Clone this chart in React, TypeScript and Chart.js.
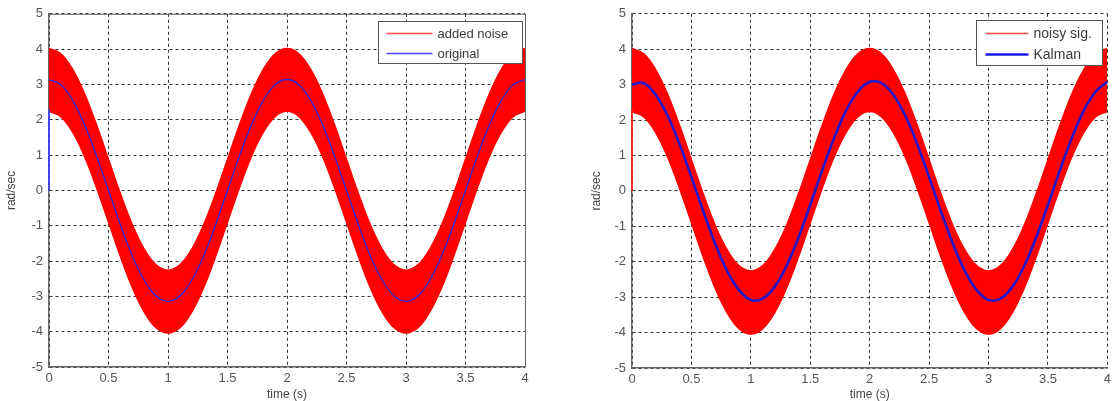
import React, { useEffect, useRef } from "react";
import { Chart, registerables } from "chart.js";

Chart.register(...registerables);

// ---------- data ----------
const TIME = [
  0, 0.1, 0.2, 0.3, 0.4, 0.5, 0.6, 0.7, 0.8, 0.9, 1.0,
  1.1, 1.2, 1.3, 1.4, 1.5, 1.6, 1.7, 1.8, 1.9, 2.0,
  2.1, 2.2, 2.3, 2.4, 2.5, 2.6, 2.7, 2.8, 2.9, 3.0,
  3.1, 3.2, 3.3, 3.4, 3.5, 3.6, 3.7, 3.8, 3.9, 4.0,
];

const ORIGINAL = [
  3.14, 2.99, 2.54, 1.85, 0.97, 0, -0.97, -1.85, -2.54, -2.99, -3.14,
  -2.99, -2.54, -1.85, -0.97, 0, 0.97, 1.85, 2.54, 2.99, 3.14,
  2.99, 2.54, 1.85, 0.97, 0, -0.97, -1.85, -2.54, -2.99, -3.14,
  -2.99, -2.54, -1.85, -0.97, 0, 0.97, 1.85, 2.54, 2.99, 3.14,
];

// upper / lower edge of the dense red noise band
const NOISE_UPPER = [
  4.02, 3.87, 3.42, 2.73, 1.85, 0.88, -0.09, -0.97, -1.66, -2.11, -2.26,
  -2.11, -1.66, -0.97, -0.09, 0.88, 1.85, 2.73, 3.42, 3.87, 4.02,
  3.87, 3.42, 2.73, 1.85, 0.88, -0.09, -0.97, -1.66, -2.11, -2.26,
  -2.11, -1.66, -0.97, -0.09, 0.88, 1.85, 2.73, 3.42, 3.87, 4.02,
];

const NOISE_LOWER = [
  2.24, 2.09, 1.64, 0.95, 0.07, -0.9, -1.87, -2.75, -3.44, -3.89, -4.04,
  -3.89, -3.44, -2.75, -1.87, -0.9, 0.07, 0.95, 1.64, 2.09, 2.24,
  2.09, 1.64, 0.95, 0.07, -0.9, -1.87, -2.75, -3.44, -3.89, -4.04,
  -3.89, -3.44, -2.75, -1.87, -0.9, 0.07, 0.95, 1.64, 2.09, 2.24,
];

const KALMAN = [
  3.0, 3.04, 2.71, 2.12, 1.32, 0.39, -0.58, -1.49, -2.26, -2.8, -3.08,
  -3.04, -2.71, -2.12, -1.32, -0.39, 0.58, 1.49, 2.26, 2.8, 3.08,
  3.04, 2.71, 2.12, 1.32, 0.39, -0.58, -1.49, -2.26, -2.8, -3.08,
  -3.04, -2.71, -2.12, -1.32, -0.39, 0.58, 1.49, 2.26, 2.8, 3.08,
];

// first samples start from zero (vertical segment at t = 0)
const START_TIME = [0, 0];
const START_VALUE = [0, 2.3];

const X_MIN = 0;
const X_MAX = 4;
const X_STEP = 0.5;
const Y_MIN = -5;
const Y_MAX = 5;
const Y_STEP = 1;

const X_TITLE = "time (s)";
const Y_TITLE = "rad/sec";

const LEFT_LEGEND = ["added noise", "original"];
const RIGHT_LEGEND = ["noisy sig.", "Kalman"];

// ---------- helpers ----------
const pts = (xs: number[], ys: number[]) => xs.map((x, i) => ({ x, y: ys[i] }));

const FONT = "'Liberation Sans', Arial, sans-serif";

type LegendItem = { label: string; stroke: string; lw: number; dy: number };
type Decor = {
  fullBox: boolean;
  xTitleY: number;
  yTitleX: number;
  width: number;
  height: number;
  offsetRight: number;
  offsetTop: number;
  lineStart: number;
  lineLen: number;
  textX: number;
  fontSize: number;
  items: LegendItem[];
};

function makeDecorPlugin(o: Decor) {
  return {
    id: "decor",
    afterDatasetsDraw(chart: any) {
      const { ctx, chartArea } = chart;
      const { left, right, top, bottom } = chartArea;
      ctx.save();
      if (o.fullBox) {
        ctx.strokeStyle = "#666";
        ctx.lineWidth = 1;
        ctx.setLineDash([]);
        ctx.beginPath();
        ctx.moveTo(left, top + 0.5);
        ctx.lineTo(right + 0.5, top + 0.5);
        ctx.lineTo(right + 0.5, bottom);
        ctx.stroke();
      }
      const bx = Math.round(right - o.offsetRight - o.width) + 0.5;
      const by = Math.round(top + o.offsetTop) + 0.5;
      ctx.setLineDash([]);
      ctx.fillStyle = "#ffffff";
      ctx.fillRect(bx, by, o.width, o.height);
      ctx.strokeStyle = "#555555";
      ctx.lineWidth = 1;
      ctx.strokeRect(bx, by, o.width, o.height);
      ctx.font = `${o.fontSize}px ${FONT}`;
      ctx.textBaseline = "middle";
      ctx.textAlign = "left";
      o.items.forEach((it) => {
        const y = by + it.dy;
        // legend sample line as a thin filled strip
        ctx.fillStyle = it.stroke;
        ctx.fillRect(bx + o.lineStart, y - it.lw / 2, o.lineLen, it.lw);
        ctx.fillStyle = "#3a3a3a";
        ctx.fillText(it.label, bx + o.textX, Math.round(y));
      });
      ctx.restore();
    },
    afterDraw(chart: any) {
      const { ctx, chartArea } = chart;
      ctx.save();
      ctx.fillStyle = "#444";
      ctx.font = `12px ${FONT}`;
      ctx.textAlign = "center";
      ctx.textBaseline = "middle";
      ctx.fillText(X_TITLE, (chartArea.left + chartArea.right) / 2, o.xTitleY);
      ctx.translate(o.yTitleX, (chartArea.top + chartArea.bottom) / 2);
      ctx.rotate(-Math.PI / 2);
      ctx.fillText(Y_TITLE, 0, 0);
      ctx.restore();
    },
  };
}

function makeConfig(kind: "left" | "right"): any {
  const isLeft = kind === "left";
  const datasets: any[] = [];
  if (isLeft) {
    datasets.push({
      data: pts(TIME, ORIGINAL),
      borderColor: "#2a2ad8",
      borderWidth: 1.3,
      order: 0,
    });
  } else {
    datasets.push({
      data: pts(TIME, KALMAN),
      borderColor: "#2418c8",
      borderWidth: 2.6,
      order: 0,
    });
  }
  datasets.push(
    {
      data: pts(TIME, NOISE_UPPER),
      borderColor: "#ff0000",
      backgroundColor: "#ff0000",
      borderWidth: 1.5,
      fill: "+1",
      order: 2,
    },
    {
      data: pts(TIME, NOISE_LOWER),
      borderColor: "#ff0000",
      borderWidth: 1.5,
      fill: false,
      order: 3,
    },
    {
      data: pts(START_TIME, START_VALUE),
      borderColor: isLeft ? "#3c3cff" : "#ff2020",
      borderWidth: 1.6,
      tension: 0,
      order: -1,
      clip: 4,
    }
  );

  const decor: Decor = isLeft
    ? {
        fullBox: true,
        xTitleY: 395,
        yTitleX: 12,
        width: 144,
        height: 42,
        offsetRight: 3,
        offsetTop: 7,
        lineStart: 8,
        lineLen: 46,
        textX: 59,
        fontSize: 13,
        items: [
          { label: LEFT_LEGEND[0], stroke: "#ff5050", lw: 1.6, dy: 12 },
          { label: LEFT_LEGEND[1], stroke: "#5050ff", lw: 1.6, dy: 32 },
        ],
      }
    : {
        fullBox: false,
        xTitleY: 395,
        yTitleX: 40,
        width: 126,
        height: 45,
        offsetRight: 5,
        offsetTop: 6,
        lineStart: 9,
        lineLen: 43,
        textX: 57,
        fontSize: 14,
        items: [
          { label: RIGHT_LEGEND[0], stroke: "#ff5050", lw: 1.6, dy: 13 },
          { label: RIGHT_LEGEND[1], stroke: "#1010e0", lw: 2.4, dy: 34 },
        ],
      };

  const tickFont = { family: FONT, size: 13 };
  const fmt = (v: any) => String(Number(v));
  return {
    type: "line",
    data: { datasets },
    options: {
      responsive: false,
      animation: false,
      devicePixelRatio: 1,
      parsing: false,
      normalized: true,
      elements: {
        point: { radius: 0, hoverRadius: 0 },
        line: { tension: 0.4, fill: false },
      },
      layout: {
        padding: isLeft
          ? { left: 0, right: 32, top: 9, bottom: 0 }
          : { left: 0, right: 6, top: 10, bottom: 0 },
      },
      plugins: {
        legend: { display: false },
        tooltip: { enabled: false },
      },
      scales: {
        x: {
          type: "linear",
          min: X_MIN,
          max: X_MAX,
          afterFit: (s: any) => {
            s.height = isLeft ? 34 : 33;
          },
          ticks: {
            stepSize: X_STEP,
            color: "#555",
            font: tickFont,
            padding: 4,
            maxRotation: 0,
            autoSkip: false,
            callback: fmt,
          },
          grid: {
            color: "#333",
            lineWidth: 1,
            drawTicks: false,
            tickLength: 0,
          },
          border: { display: true, color: "#666", width: 1.5, dash: [3, 3] },
        },
        y: {
          type: "linear",
          min: Y_MIN,
          max: Y_MAX,
          afterFit: (s: any) => {
            s.width = isLeft ? 49 : 75;
          },
          ticks: {
            stepSize: Y_STEP,
            color: "#555",
            font: tickFont,
            padding: 6,
            autoSkip: false,
            callback: fmt,
          },
          grid: {
            color: "#333",
            lineWidth: 1,
            drawTicks: false,
            tickLength: 0,
          },
          border: { display: true, color: "#666", width: 1.5, dash: [3, 3] },
        },
      },
    },
    plugins: [makeDecorPlugin(decor)],
  };
}

function Panel({ kind, left, width }: { kind: "left" | "right"; left: number; width: number }) {
  const ref = useRef<HTMLCanvasElement | null>(null);
  useEffect(() => {
    if (!ref.current) return;
    const chart = new Chart(ref.current, makeConfig(kind));
    return () => chart.destroy();
  }, [kind]);
  return (
    <canvas
      ref={ref}
      width={width}
      height={401}
      style={{ position: "absolute", left, top: 0, width, height: 401 }}
    />
  );
}

export default function App() {
  return (
    <div
      style={{
        position: "fixed",
        left: 0,
        top: 0,
        width: 1115,
        height: 401,
        background: "#fff",
        overflow: "hidden",
      }}
    >
      <Panel kind="left" left={0} width={557} />
      <Panel kind="right" left={557} width={558} />
    </div>
  );
}
